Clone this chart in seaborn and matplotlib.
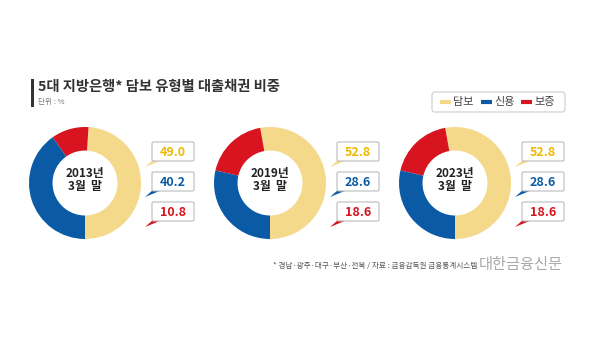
import matplotlib
matplotlib.use("Agg")
import matplotlib.pyplot as plt
import seaborn as sns
from matplotlib.patches import FancyBboxPatch, Polygon

sns.set_theme(style="white")
plt.rcParams['font.family'] = ['Noto Sans CJK KR', 'DejaVu Sans']

# data
years = ['2013년', '2019년', '2023년']
types = ['담보', '신용', '보증']
dambo = [49.0, 52.8, 52.8]
sinyong = [40.2, 28.6, 28.6]
bojeung = [10.8, 18.6, 18.6]

ring_colors = {'담보': '#F5D98A', '신용': '#0A5AA6', '보증': '#D7141F'}
text_colors = {'담보': '#F1B800', '신용': '#0A5AA6', '보증': '#D7141F'}

W, H = 600, 360
fig = plt.figure(figsize=(6, 3.6), dpi=100)
fig.patch.set_facecolor('white')

# overlay axes in pixel coords
bg = fig.add_axes([0, 0, 1, 1])
bg.set_xlim(0, W)
bg.set_ylim(H, 0)
bg.axis('off')

# title
bg.add_patch(plt.Rectangle((31, 79), 3, 28, color='#333333', lw=0))
bg.text(38, 87, '5대 지방은행* 담보 유형별 대출채권 비중', fontsize=10.3, fontweight='bold',
        color='#333333', va='center', ha='left')
bg.text(38, 102, '단위 : %', fontsize=5.5, color='#777777', va='center', ha='left')

# legend
bg.add_patch(FancyBboxPatch((432, 92), 133, 20, boxstyle='round,pad=0,rounding_size=3',
                            fc='white', ec='#cccccc', lw=0.8))
leg_x = [440, 481, 521]
for lx, t in zip(leg_x, types):
    bg.plot([lx, lx + 11], [102, 102], color=ring_colors[t], lw=3, solid_capstyle='butt')
    bg.text(lx + 13, 102, t, fontsize=8, color='#444444', va='center', ha='left')

# donuts
centers = [85, 270, 455]
cy, r = 183, 56
for i, cx in enumerate(centers):
    ax = fig.add_axes([(cx - r) / W, (H - cy - r) / H, 2 * r / W, 2 * r / H])
    vals = [dambo[i], bojeung[i], sinyong[i]]
    cols = [ring_colors['담보'], ring_colors['보증'], ring_colors['신용']]
    ax.pie(vals, colors=cols, startangle=-90, counterclock=True, radius=1,
           wedgeprops=dict(width=0.42, edgecolor='none'))
    ax.set_xlim(-1, 1)
    ax.set_ylim(-1, 1)
    ax.set_aspect('equal')
    ax.axis('off')
    bg.text(cx, 173, years[i], fontsize=8.5, fontweight='bold', color='#222222',
            ha='center', va='center')
    bg.text(cx, 186.5, '3월  말', fontsize=8.5, fontweight='bold', color='#222222',
            ha='center', va='center')

    # callout boxes
    bx = cx + 67
    box_y = [142, 172, 202]
    vals_txt = [dambo[i], sinyong[i], bojeung[i]]
    for by, t, v in zip(box_y, types, vals_txt):
        bg.add_patch(Polygon([(bx + 1, by + 18), (bx + 10, by + 18), (bx - 7, by + 25)],
                             closed=True, fc=ring_colors[t], ec='none', zorder=2))
        bg.add_patch(FancyBboxPatch((bx, by), 42, 19, boxstyle='round,pad=0,rounding_size=1.5',
                                    fc='white', ec='#bbbbbb', lw=0.8, zorder=3))
        bg.text(bx + 21, by + 10, f'{v:.1f}', fontsize=9, fontweight='bold',
                color=text_colors[t], ha='center', va='center', zorder=4)

# footer
bg.text(477, 266, '* 경남·광주·대구·부산·전북 / 자료 : 금융감독원 금융통계시스템', fontsize=5.5,
        color='#555555', ha='right', va='center')
bg.text(479, 265, '대한금융신문', fontsize=11, color='#aaaaaa', ha='left', va='center')

fig.savefig('out.png', dpi=100, facecolor='white')
